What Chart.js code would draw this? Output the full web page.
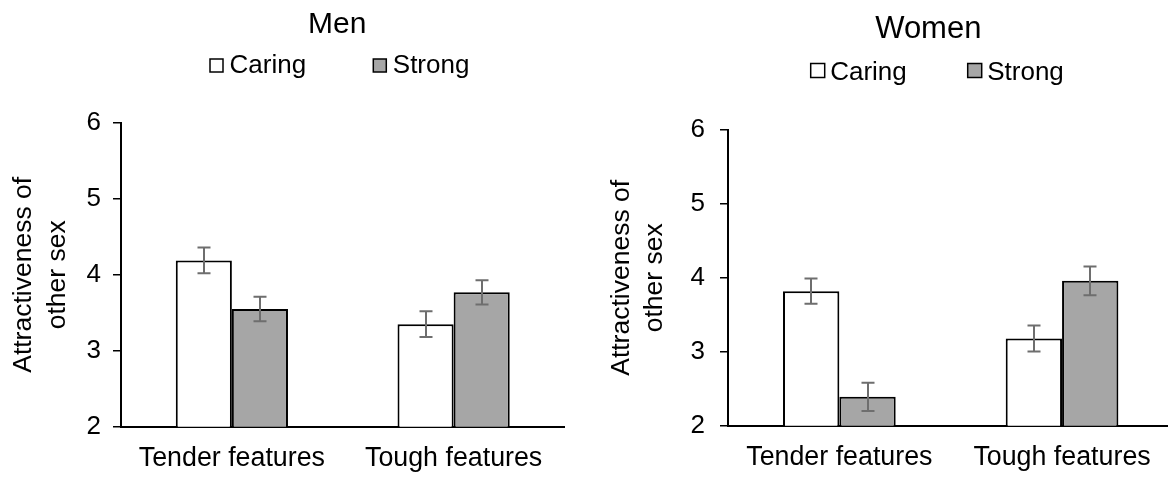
<!DOCTYPE html>
<html>
<head>
<meta charset="utf-8">
<script src="https://cdn.jsdelivr.net/npm/chart.js@4/dist/chart.umd.min.js"></script>
<style>
  html, body { margin: 0; padding: 0; background: #fff; overflow: hidden; width: 1168px; height: 479px; }
  .panel { position: absolute; top: 0; height: 479px; }
  #menBox { left: 0; width: 590px; }
  #womenBox { left: 590px; width: 610px; }
</style>
</head>
<body>
<div id="menBox" class="panel"><canvas id="men"></canvas></div>
<div id="womenBox" class="panel"><canvas id="women"></canvas></div>
<script>
// ---- data ----
const categories = ['Tender features', 'Tough features'];
const seriesNames = ['Caring', 'Strong'];
const menCaring = [4.19, 3.35];
const menCaringErr = [0.17, 0.17];
const menStrong = [3.55, 3.77];
const menStrongErr = [0.16, 0.16];
const womenCaring = [3.82, 3.18];
const womenCaringErr = [0.17, 0.175];
const womenStrong = [2.39, 3.96];
const womenStrongErr = [0.19, 0.195];
const yMin = 2, yMax = 6, yStep = 1;
const yTitle = ['Attractiveness of', 'other sex'];

// ---- styles ----
const FONT = '"Liberation Sans", Arial, sans-serif';
const fills = ['#ffffff', '#a6a6a6'];
const errColor = '#6e6e6e';

const errorBars = {
  id: 'errorBars',
  afterDatasetsDraw(chart, args, opts) {
    const ctx = chart.ctx, y = chart.scales.y;
    ctx.save();
    ctx.strokeStyle = errColor;
    ctx.lineWidth = 2;
    chart.data.datasets.forEach((ds, i) => {
      const meta = chart.getDatasetMeta(i);
      meta.data.forEach((bar, j) => {
        const v = ds.data[j], e = ds.errors[j];
        const top = y.getPixelForValue(v + e), bot = y.getPixelForValue(v - e);
        const x = Math.round(bar.x);
        ctx.beginPath();
        ctx.moveTo(x, top); ctx.lineTo(x, bot);
        ctx.moveTo(x - 6.5, top); ctx.lineTo(x + 6.5, top);
        ctx.moveTo(x - 6.5, bot); ctx.lineTo(x + 6.5, bot);
        ctx.stroke();
      });
    });
    ctx.restore();
  }
};

const header = {
  id: 'header',
  afterDraw(chart, args, o) {
    const ctx = chart.ctx;
    ctx.save();
    ctx.fillStyle = '#000';
    ctx.textBaseline = 'alphabetic';
    ctx.textAlign = 'center';
    ctx.font = o.titleSize + 'px ' + FONT;
    ctx.fillText(o.title, o.titleX, o.titleY);
    ctx.textAlign = 'left';
    ctx.font = o.legendSize + 'px ' + FONT;
    chart.data.datasets.forEach((ds, i) => {
      const bx = o.boxX[i];
      ctx.fillStyle = ds.backgroundColor;
      ctx.fillRect(bx, o.boxY, o.boxSize, o.boxSize);
      ctx.strokeStyle = '#000';
      ctx.lineWidth = 1.5;
      ctx.strokeRect(bx, o.boxY, o.boxSize, o.boxSize);
      ctx.fillStyle = '#000';
      ctx.fillText(ds.label, bx + o.boxSize + o.textGap, o.textY);
    });
    ctx.restore();
  }
};

function makeChart(id, caring, caringErr, strong, strongErr, L) {
  return new Chart(document.getElementById(id), {
    type: 'bar',
    data: {
      labels: categories,
      datasets: [
        { label: seriesNames[0], data: caring, errors: caringErr, backgroundColor: fills[0],
          borderColor: '#000', borderWidth: 2, borderSkipped: false },
        { label: seriesNames[1], data: strong, errors: strongErr, backgroundColor: fills[1],
          borderColor: '#000', borderWidth: 2, borderSkipped: false }
      ]
    },
    options: {
      responsive: true,
      maintainAspectRatio: false,
      animation: false,
      devicePixelRatio: 1,
      layout: { padding: { top: L.top, right: L.right, bottom: 0, left: 0 } },
      datasets: { bar: { categoryPercentage: 0.506, barPercentage: 1.0 } },
      plugins: {
        legend: { display: false },
        title: { display: false },
        tooltip: { enabled: false },
        header: L.header
      },
      scales: {
        x: {
          grid: { display: false, drawTicks: false },
          border: { display: true, color: '#000', width: 2 },
          ticks: { color: '#000', font: { family: FONT, size: 26.8 }, padding: 16, maxRotation: 0 },
          afterFit(s) { s.height = L.xHeight; }
        },
        y: {
          min: yMin, max: yMax,
          ticks: { stepSize: yStep, color: '#000', font: { family: FONT, size: 26 }, padding: L.tickPad },
          grid: { drawOnChartArea: false, drawTicks: true, tickLength: 8, color: '#000', lineWidth: 1.5 },
          border: { display: true, color: '#000', width: 2 },
          title: { display: true, text: yTitle, color: '#000',
                   font: { family: FONT, size: 26.5, lineHeight: 1.26 }, padding: { top: L.titlePad, bottom: 0 } },
          afterFit(s) { s.width = L.yWidth; }
        }
      }
    },
    plugins: [errorBars, header]
  });
}

makeChart('men', menCaring, menCaringErr, menStrong, menStrongErr, {
  top: 123, right: 25.5, xHeight: 52.3, yWidth: 121, tickPad: 12, titlePad: 7.4,
  header: { title: 'Men', titleSize: 30, titleX: 337.2, titleY: 33.3, legendSize: 26,
            boxX: [210, 373.3], boxY: 59, boxSize: 13, textGap: 6.5, textY: 72.7 }
});
makeChart('women', womenCaring, womenCaringErr, womenStrong, womenStrongErr, {
  top: 130, right: 26.6, xHeight: 53.3, yWidth: 138, tickPad: 15, titlePad: 15,
  header: { title: 'Women', titleSize: 31, titleX: 338.3, titleY: 38.3, legendSize: 26,
            boxX: [220.7, 377.7], boxY: 63.5, boxSize: 14, textGap: 5.5, textY: 80 }
});
</script>
</body>
</html>
